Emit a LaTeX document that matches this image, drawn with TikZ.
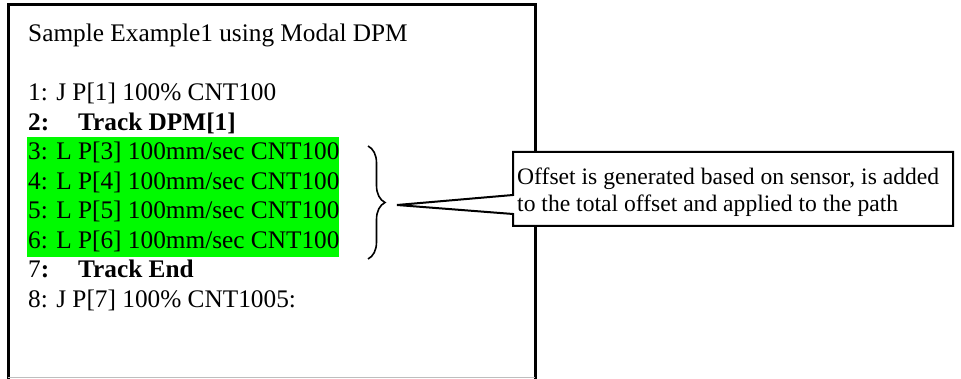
\documentclass[tikz,border=0pt]{standalone}
\usepackage{fontspec}
\setmainfont{Liberation Serif}
\usetikzlibrary{decorations.pathreplacing}
\definecolor{hilite}{RGB}{0,250,0}
\definecolor{edgegray}{RGB}{190,190,190}
\tikzset{
  codeline/.style={anchor=base west, inner sep=0pt, font=\fontsize{25.3}{29.5}\selectfont},
  notetext/.style={anchor=base west, inner sep=0pt, font=\fontsize{23.6}{27}\selectfont},
  framepen/.style={line width=3pt, black},
  notepen/.style={line width=2pt, black, fill=white, line join=miter},
  bracepen/.style={line width=1.6pt, decorate, decoration={brace, amplitude=17pt}}
}
\begin{document}
\begin{tikzpicture}[x=1pt, y=-1pt]
  \useasboundingbox (0,0) rectangle (961,379);
  % program listing frame (its lower edge runs off the page)
  \draw[framepen] (8,380) -- (8,5) -- (535,5) -- (535,380);
  \draw[edgegray, line width=1pt] (8,377.5) -- (535,377.5);
  % highlighted tracking block
  \fill[hilite] (27,137) rectangle (339,257);
  % listing text
  \node[codeline] (title) at (28,42) {Sample Example1 using Modal DPM};
  \node[codeline] (l1) at (28,101) {1: J P[1] 100\% CNT100};
  \node[codeline] (l2n) at (28,130.5) {\textbf{2:}};
  \node[codeline] (l2) at (78,130.5) {\textbf{Track DPM[1]}};
  \node[codeline] (l3) at (28,160) {3: L P[3] 100mm/sec CNT100};
  \node[codeline] (l4) at (28,189.5) {4: L P[4] 100mm/sec CNT100};
  \node[codeline] (l5) at (28,219) {5: L P[5] 100mm/sec CNT100};
  \node[codeline] (l6) at (28,248.5) {6: L P[6] 100mm/sec CNT100};
  \node[codeline] (l7n) at (28,278) {7\textbf{:}};
  \node[codeline] (l7) at (78,278) {\textbf{Track End}};
  \node[codeline] (l8) at (28,307.5) {8: J P[7] 100\% CNT1005:};
  % brace grouping lines 3 to 6
  \draw[bracepen] (368,146) -- (368,259);
  % callout with its pointer towards the brace
  \coordinate (tip) at (397,205);
  \draw[notepen] (513,195) -- (513,152) -- (953,152) -- (953,226) -- (513,226) -- (513,214) -- (tip) -- cycle;
  \node[notetext] (n1) at (517,185) {Offset is generated based on sensor, is added};
  \node[notetext] (n2) at (517,212) {to the total offset and applied to the path};
\end{tikzpicture}
\end{document}
